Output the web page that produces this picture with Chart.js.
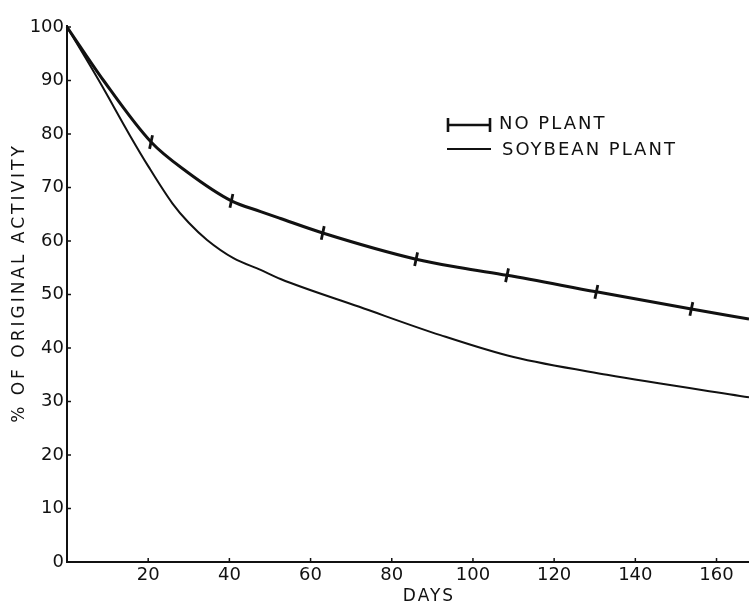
<!DOCTYPE html>
<html>
<head>
<meta charset="utf-8">
<script src="https://cdn.jsdelivr.net/npm/chart.js@4.4.1/dist/chart.umd.min.js"></script>
<style>
  html, body { margin: 0; padding: 0; background: #fff; }
  #wrap { width: 749px; height: 608px; }
</style>
</head>
<body>
<div id="wrap"><canvas id="c" width="749" height="608"></canvas></div>
<script>
// ---- data ----
const noPlantDays   = [0, 9, 20.7, 29.6, 40.5, 47.7, 52.6, 63, 86, 97, 108.4, 130.4, 153.8, 168];
const noPlantValues = [100, 90, 78.5, 72.9, 67.5, 65.5, 64.2, 61.5, 56.6, 55.0, 53.6, 50.5, 47.3, 45.4];
const noPlantMarkedDays = [20.7, 40.5, 63, 86, 108.4, 130.4, 153.8];

const soybeanDays   = [0, 8, 15.6, 20, 26, 30, 34.5, 41, 47.7, 52.6, 72, 92, 110, 133, 168];
const soybeanValues = [100, 89.8, 79.6, 74.0, 67.0, 63.4, 60.2, 56.8, 54.6, 52.9, 47.7, 42.4, 38.3, 35.0, 30.8];

const xTicks = [20, 40, 60, 80, 100, 120, 140, 160];
const yTicks = [0, 10, 20, 30, 40, 50, 60, 70, 80, 90, 100];
const seriesLabels = ['NO PLANT', 'SOYBEAN PLANT'];
const xTitle = 'DAYS';
const yTitle = '% OF ORIGINAL ACTIVITY';

const FONT = '"DejaVu Sans", sans-serif';
const INK = '#111';

const toXY = (xs, ys) => xs.map((x, i) => ({ x: x, y: ys[i] }));

const decorPlugin = {
  id: 'decor',
  afterDraw(chart) {
    const ctx = chart.ctx;
    const xs = chart.scales.x, ys = chart.scales.y;
    const area = chart.chartArea;
    ctx.save();
    ctx.strokeStyle = INK;
    ctx.fillStyle = INK;
    // axis lines
    ctx.lineWidth = 2;
    ctx.beginPath();
    ctx.moveTo(area.left, area.top - 2);
    ctx.lineTo(area.left, area.bottom);
    ctx.lineTo(area.right, area.bottom);
    ctx.stroke();
    // small inward tick marks
    ctx.lineWidth = 1.5;
    yTicks.forEach(v => {
      const py = ys.getPixelForValue(v);
      ctx.beginPath(); ctx.moveTo(area.left, py); ctx.lineTo(area.left + 4, py); ctx.stroke();
    });
    xTicks.forEach(v => {
      const px = xs.getPixelForValue(v);
      ctx.beginPath(); ctx.moveTo(px, area.bottom); ctx.lineTo(px, area.bottom - 4); ctx.stroke();
    });
    // axis titles
    ctx.font = '17px ' + FONT;
    ctx.textAlign = 'center';
    ctx.textBaseline = 'middle';
    ctx.letterSpacing = '2px';
    ctx.fillText(xTitle, 429, 597);
    ctx.save();
    ctx.translate(20, 283);
    ctx.rotate(-Math.PI / 2);
    ctx.letterSpacing = '3px';
    ctx.fillText(yTitle, 0, 0);
    ctx.restore();
    // legend
    ctx.letterSpacing = '2px';
    ctx.font = '18px ' + FONT;
    ctx.textAlign = 'left';
    ctx.lineWidth = 2.6;
    ctx.beginPath();
    ctx.moveTo(447, 125); ctx.lineTo(491, 125);
    ctx.moveTo(448, 118); ctx.lineTo(448, 132);
    ctx.moveTo(490, 118); ctx.lineTo(490, 132);
    ctx.stroke();
    ctx.fillText(seriesLabels[0], 499, 124);
    ctx.lineWidth = 2;
    ctx.beginPath();
    ctx.moveTo(447, 149); ctx.lineTo(491, 149);
    ctx.stroke();
    ctx.fillText(seriesLabels[1], 502, 150);
    ctx.restore();
  }
};

new Chart(document.getElementById('c'), {
  type: 'line',
  data: {
    datasets: [
      {
        label: seriesLabels[0],
        data: toXY(noPlantDays, noPlantValues),
        borderColor: INK,
        backgroundColor: INK,
        borderWidth: 3,
        cubicInterpolationMode: 'monotone',
        pointStyle: 'line',
        pointRotation: 102,
        pointBorderWidth: 2.8,
        pointBorderColor: INK,
        pointRadius: ctx => (ctx.raw && noPlantMarkedDays.includes(ctx.raw.x)) ? 7 : 0,
        pointHoverRadius: 0
      },
      {
        label: seriesLabels[1],
        data: toXY(soybeanDays, soybeanValues),
        borderColor: INK,
        borderWidth: 2,
        cubicInterpolationMode: 'monotone',
        pointRadius: 0,
        pointHoverRadius: 0
      }
    ]
  },
  options: {
    responsive: false,
    devicePixelRatio: 1,
    animation: false,
    clip: false,
    events: [],
    layout: { padding: { top: 27, right: 0, bottom: 0, left: 0 } },
    plugins: {
      legend: { display: false },
      tooltip: { enabled: false }
    },
    scales: {
      x: {
        type: 'linear',
        min: 0,
        max: 168,
        afterFit(scale) { scale.height = 46; },
        afterBuildTicks(scale) { scale.ticks = xTicks.map(v => ({ value: v })); },
        grid: { display: false, drawTicks: false },
        border: { display: false },
        ticks: {
          color: INK,
          font: { family: FONT, size: 18 },
          padding: 3,
          maxRotation: 0,
          autoSkip: false
        }
      },
      y: {
        type: 'linear',
        min: 0,
        max: 100,
        afterFit(scale) { scale.width = 67; },
        afterBuildTicks(scale) { scale.ticks = yTicks.map(v => ({ value: v })); },
        grid: { display: false, drawTicks: false },
        border: { display: false },
        ticks: {
          color: INK,
          font: { family: FONT, size: 18 },
          padding: 3,
          autoSkip: false
        }
      }
    }
  },
  plugins: [decorPlugin]
});
</script>
</body>
</html>
